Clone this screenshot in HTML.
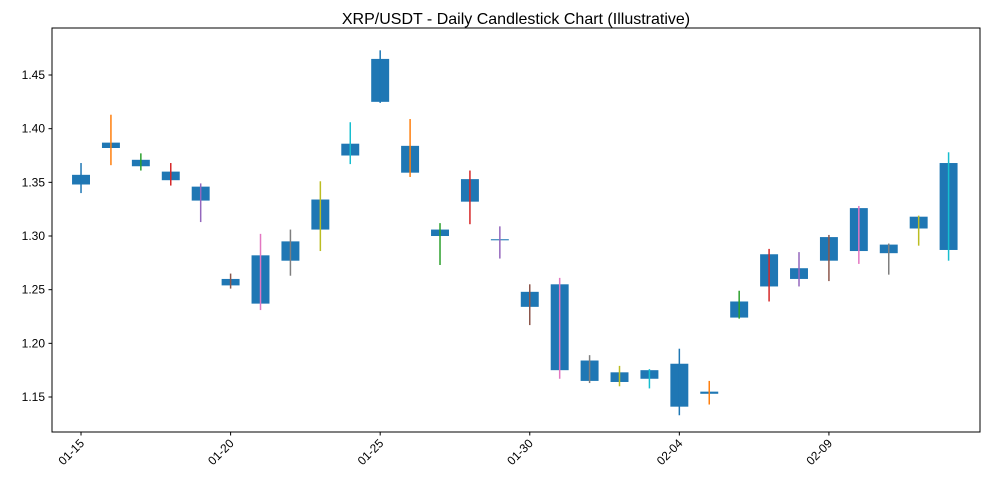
<!DOCTYPE html>
<html><head><meta charset="utf-8"><style>
body{margin:0;background:#fff;font-family:"Liberation Sans","DejaVu Sans",sans-serif}
svg{display:block}
</style></head><body>
<svg id="chart" width="990" height="490" xmlns="http://www.w3.org/2000/svg">
<rect x="0" y="0" width="990" height="490" fill="#fff"/>
<text x="516" y="24" text-anchor="middle" font-size="16" fill="#000">XRP/USDT - Daily Candlestick Chart (Illustrative)</text>
<g id="plot"></g>
</svg>
<script>
const dates = ["01-15","01-16","01-17","01-18","01-19","01-20","01-21","01-22","01-23","01-24","01-25","01-26","01-27","01-28","01-29","01-30","01-31","02-01","02-02","02-03","02-04","02-05","02-06","02-07","02-08","02-09","02-10","02-11","02-12","02-13"];
const opens  = [1.348,1.382,1.365,1.352,1.346,1.254,1.282,1.277,1.306,1.375,1.425,1.384,1.300,1.332,1.296,1.248,1.255,1.184,1.164,1.167,1.181,1.153,1.224,1.253,1.260,1.277,1.286,1.284,1.307,1.287];
const closes = [1.357,1.387,1.371,1.360,1.333,1.260,1.237,1.295,1.334,1.386,1.465,1.359,1.306,1.353,1.297,1.234,1.175,1.165,1.173,1.175,1.141,1.155,1.239,1.283,1.270,1.299,1.326,1.292,1.318,1.368];
const highs  = [1.368,1.413,1.377,1.368,1.349,1.265,1.302,1.306,1.351,1.406,1.473,1.409,1.312,1.361,1.309,1.255,1.261,1.189,1.179,1.176,1.195,1.165,1.249,1.288,1.285,1.301,1.328,1.293,1.319,1.378];
const lows   = [1.340,1.366,1.361,1.347,1.313,1.251,1.231,1.263,1.286,1.367,1.424,1.355,1.273,1.311,1.279,1.217,1.167,1.163,1.160,1.158,1.133,1.143,1.223,1.239,1.253,1.258,1.274,1.264,1.291,1.277];
const yTicks = [1.15,1.20,1.25,1.30,1.35,1.40,1.45];
const xTickIdx = [0,5,10,15,20,25];

const NS="http://www.w3.org/2000/svg";
const L=52,R=980,T=28,B=432;
const yMin=1.1174,yMax=1.4938,xMin=-0.97,xMax=30.05;
const sy=v=>B-(v-yMin)/(yMax-yMin)*(B-T);
const sx=i=>L+(i-xMin)/(xMax-xMin)*(R-L);
const cycle=["#1f77b4","#ff7f0e","#2ca02c","#d62728","#9467bd","#8c564b","#e377c2","#7f7f7f","#bcbd22","#17becf"];
const plot=document.getElementById('plot');
function mk(tag,attrs,parent){const e=document.createElementNS(NS,tag);for(const k in attrs)e.setAttribute(k,attrs[k]);(parent||plot).appendChild(e);return e;}
const dayW=(R-L)/(xMax-xMin);
for(let i=0;i<dates.length;i++){
  const top=Math.max(opens[i],closes[i]),bot=Math.min(opens[i],closes[i]);
  const b=mk('rect',{x:sx(i)-0.3*dayW,y:sy(top),width:0.6*dayW,height:Math.max(1,sy(bot)-sy(top)),fill:"#1f77b4"});
  
  
  const w=mk('line',{x1:sx(i),x2:sx(i),y1:sy(highs[i]),y2:sy(lows[i]),stroke:cycle[i%10],'stroke-width':1.5});
  
  
}
const frame=mk('rect',{x:L,y:T,width:R-L,height:B-T,fill:"none",stroke:"#000","stroke-width":1});


yTicks.forEach(v=>{
  const y=sy(v);
  const t=mk('line',{x1:L-3.5,x2:L,y1:y,y2:y,stroke:"#000"});
  
  
  const lb=mk('text',{x:L-7,y:y+4,'text-anchor':'end','font-size':12,fill:'#000'});
  lb.textContent=v.toFixed(2);
  
  
});
xTickIdx.forEach(i=>{
  const x=sx(i);
  const t=mk('line',{x1:x,x2:x,y1:B,y2:B+3.5,stroke:"#000"});
  
  
  const lb=mk('text',{x:x+4,y:B+12,'text-anchor':'end','font-size':12,fill:'#000',transform:`rotate(-45 ${x+4} ${B+12})`});
  lb.textContent=dates[i];
  
  
});
</script>
</body></html>
